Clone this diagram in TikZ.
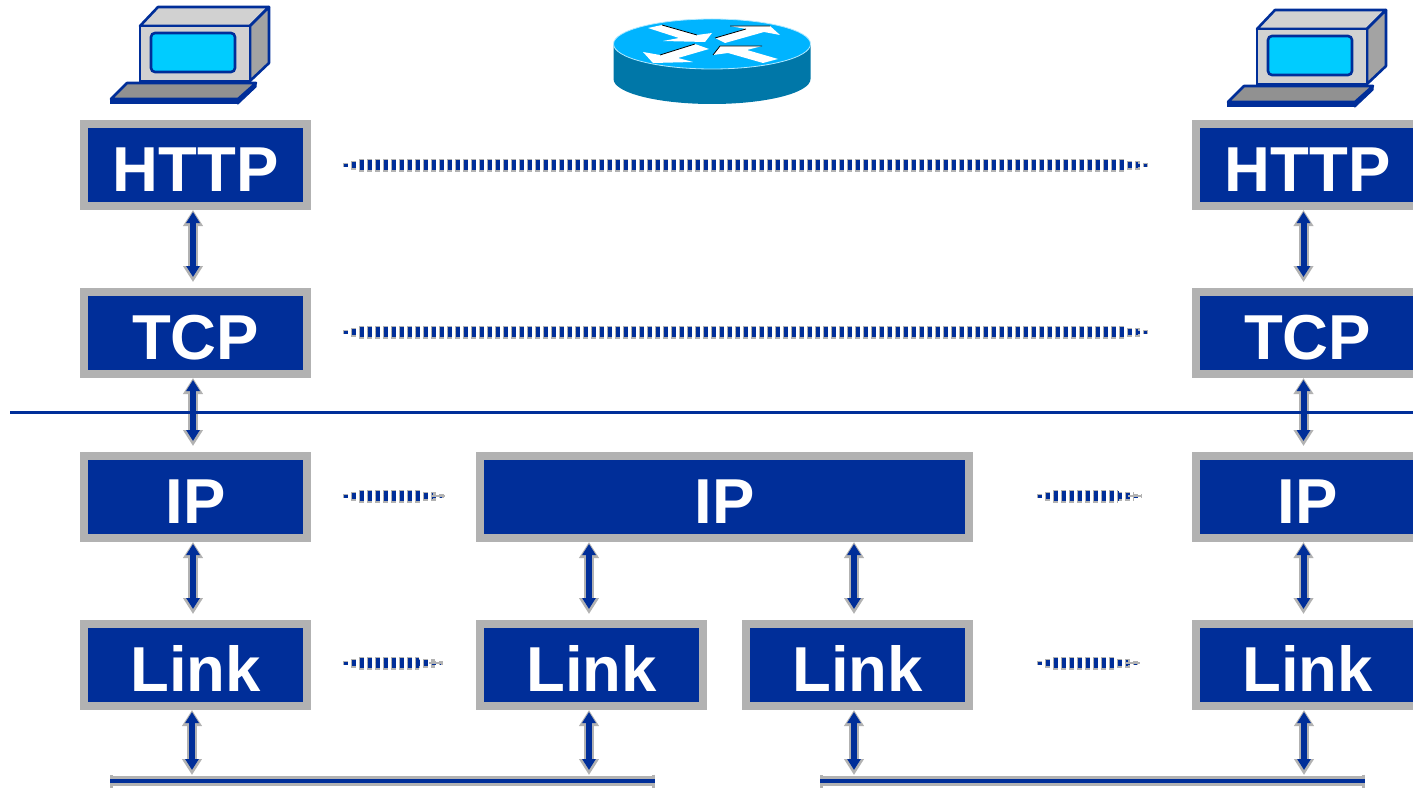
\documentclass[tikz,border=0pt]{standalone}
\usepackage{fontspec}
\setmainfont{Liberation Sans}
\usetikzlibrary{arrows.meta}
\definecolor{boxblue}{HTML}{002E99}
\definecolor{boxgray}{HTML}{B2B2B2}
\definecolor{routertop}{HTML}{00B4FF}
\definecolor{routerside}{HTML}{0077A8}
\definecolor{screenblue}{HTML}{00CCFF}
\tikzset{layerbox/.style={draw=boxgray,fill=boxblue,line width=8pt,text=white,
    font=\fontsize{63.5}{70}\selectfont\bfseries,text height=53pt,text depth=0pt,
    minimum height=82pt,inner sep=0pt}}
\tikzset{stackback/.style={draw=boxgray,line width=10pt,
    {Triangle[width=19pt,length=16pt]}-{Triangle[width=19pt,length=16pt]},shorten >=6pt}}
\tikzset{stackfront/.style={draw=boxblue,line width=6pt,
    {Triangle[width=13pt,length=11pt]}-{Triangle[width=13pt,length=11pt]},shorten <=2pt,shorten >=11pt}}
\tikzset{peerlink/.style 2 args={draw=none,
    preaction={draw=boxgray,line width=4pt,dash pattern=on 5pt off 3pt,shorten <=#1pt,shorten >=#2pt},
    preaction={draw=boxgray,line width=9pt,dash pattern=on 5pt off 3pt,shorten <=#1pt+8pt,shorten >=#2pt+8pt},
    preaction={draw=boxgray,line width=13pt,dash pattern=on 5pt off 3pt,shorten <=#1pt+16pt,shorten >=#2pt+24pt},
    preaction={draw=boxblue,line width=3pt,dash pattern=on 4pt off 4pt,shorten <=#1pt+.5pt,shorten >=#2pt+3pt},
    preaction={draw=boxblue,line width=6pt,dash pattern=on 4pt off 4pt,shorten <=#1pt+8.5pt,shorten >=#2pt+12pt},
    preaction={draw=boxblue,line width=10pt,dash pattern=on 4pt off 4pt,shorten <=#1pt+16.5pt,shorten >=#2pt+24pt}}}
\tikzset{buswire/.style={draw=boxblue,line width=4pt}}
\tikzset{busback/.style={draw=boxgray,line width=10pt,{Bar[width=13pt,line width=3pt]}-{Bar[width=13pt,line width=3pt]}}}
\tikzset{pics/computer/.style={code={
  \draw[boxblue,line width=2.6pt,line join=round,fill=boxgray!60] (140,26) -- (158,7) -- (269,7) -- (250,26) -- cycle;
  \draw[boxblue,line width=2.6pt,line join=round,fill=black!36] (250,26) -- (269,7) -- (269,63) -- (250,81) -- cycle;
  \draw[boxblue,line width=2.6pt,fill=boxgray!60] (140,26) rectangle (250,81);
  \draw[boxblue,line width=2.6pt,fill=screenblue,rounded corners=4pt] (151,33) rectangle (235,72);
  \draw[boxblue,line width=2.6pt,line join=round,fill=black!43] (127,83) -- (256,83) -- (238,99) -- (111,99) -- cycle;
  \draw[boxblue,line width=2.6pt,fill=boxblue] (111,100) -- (238,100) -- (238,103) -- (111,103) -- cycle;
  \draw[boxblue,line width=1pt,fill=boxblue] (238,99) -- (256,83) -- (256,87) -- (238,104) -- cycle;
}}}
\begin{document}
\begin{tikzpicture}[x=1pt,y=-1pt]
\useasboundingbox (0,0) rectangle (1413,789);
\clip (0,0) rectangle (1413,789);
\node[layerbox,minimum width=223pt] (http1) at (195.5,165) {HTTP};
\node[layerbox,minimum width=223pt] (tcp1) at (195.5,333) {TCP};
\node[layerbox,minimum width=223pt] (ip1) at (195.5,497) {IP};
\node[layerbox,minimum width=223pt] (link1) at (195.5,665) {Link};
\node[layerbox,minimum width=223pt] (http2) at (1307.5,165) {HTTP};
\node[layerbox,minimum width=223pt] (tcp2) at (1307.5,333) {TCP};
\node[layerbox,minimum width=223pt] (ip2) at (1307.5,497) {IP};
\node[layerbox,minimum width=223pt] (link2) at (1307.5,665) {Link};
\node[layerbox,minimum width=489pt] (ipr) at (724.5,497) {IP};
\node[layerbox,minimum width=223pt] (linkr1) at (591.5,665) {Link};
\node[layerbox,minimum width=223pt] (linkr2) at (857.5,665) {Link};
\coordinate (bus1w) at (110,781);
\coordinate (bus1e) at (655,781);
\coordinate (bus2w) at (820,781);
\coordinate (bus2e) at (1365,781);
\draw[busback] (bus1w) -- (bus1e);
\draw[busback] (bus2w) -- (bus2e);
\draw[buswire] (bus1w) -- (bus1e);
\draw[buswire] (bus2w) -- (bus2e);
\foreach \x/\a/\b in {193/http1.south/tcp1.north,193/tcp1.south/ip1.north,193/ip1.south/link1.north,192/link1.south/bus1w,
    1303.5/http2.south/tcp2.north,1303.5/tcp2.south/ip2.north,1303.5/ip2.south/link2.north,1304/link2.south/bus2e,
    589/ipr.south/linkr1.north,854/ipr.south/linkr2.north,589/linkr1.south/bus1w,854/linkr2.south/bus2w}
  \draw[stackback] (\x,0 |- \a) -- (\x,0 |- \b);
\coordinate (rulew) at (10,412.5);
\coordinate (rulee) at (1413,412.5);
\draw[boxblue,line width=2.5pt] (rulew) -- (rulee);
\foreach \x/\a/\b in {193/http1.south/tcp1.north,193/tcp1.south/ip1.north,193/ip1.south/link1.north,192/link1.south/bus1w,
    1303.5/http2.south/tcp2.north,1303.5/tcp2.south/ip2.north,1303.5/ip2.south/link2.north,1304/link2.south/bus2e,
    589/ipr.south/linkr1.north,854/ipr.south/linkr2.north,589/linkr1.south/bus1w,854/linkr2.south/bus2w}
  \draw[stackfront] (\x,0 |- \a) -- (\x,0 |- \b);
\foreach \a/\b/\s/\e/\dy in {http1/http2/32/42/0,tcp1/tcp2/32/42/-1,ip1/ipr/32/31/-1,ipr/ip2/64/50/-1,link1/linkr1/32/33/-2,linkr2/link2/64/52/-2}
  \path[peerlink={\s}{\e}] ([yshift=\dy*-1pt]\a.east) -- ([yshift=\dy*-1pt]\b.west);
\foreach \b/\e/\dy in {ipr/31/-1,ip2/50/-1,linkr1/33/-2,link2/52/-2}
  \draw[boxgray,line width=1.5pt] ([xshift=-\e pt-14pt,yshift=\dy*-1pt]\b.west) -- ([xshift=-\e pt,yshift=\dy*-1pt]\b.west);
\pic at (0,0) {computer};
\pic at (1117,3) {computer};
\fill[routerside] (613.5,44) -- (613.5,79) arc[start angle=180,delta angle=-180,x radius=98.5,y radius=25] -- (810.5,44) -- cycle;
\draw[white!70!routertop,line width=0.8pt,fill=routertop] (712,44) ellipse [x radius=98.5,y radius=25];
\fill[white] (648,28) -- (662,25) -- (697,35) -- (712,33) -- (705,42) -- (663,41) -- (679,38) -- cycle;
\fill[white] (715,38) -- (746,29) -- (730,26) -- (770,26) -- (780,35) -- (764,32) -- (725,43) -- cycle;
\fill[white] (709,49) -- (695,44) -- (660,55) -- (643,52) -- (653,63) -- (693,62) -- (678,58) -- cycle;
\fill[white] (713,55) -- (720,46) -- (762,46) -- (747,50) -- (778,59) -- (763,63) -- (728,53) -- cycle;
\draw[black,line width=0.8pt] (662,25) -- (697,35);
\draw[black,line width=0.8pt] (715,38) -- (746,29) (730,26) -- (770,26);
\draw[black,line width=0.8pt] (695,44) -- (660,55);
\draw[black,line width=0.8pt] (713,55) -- (720,46) -- (762,46);
\end{tikzpicture}
\end{document}
